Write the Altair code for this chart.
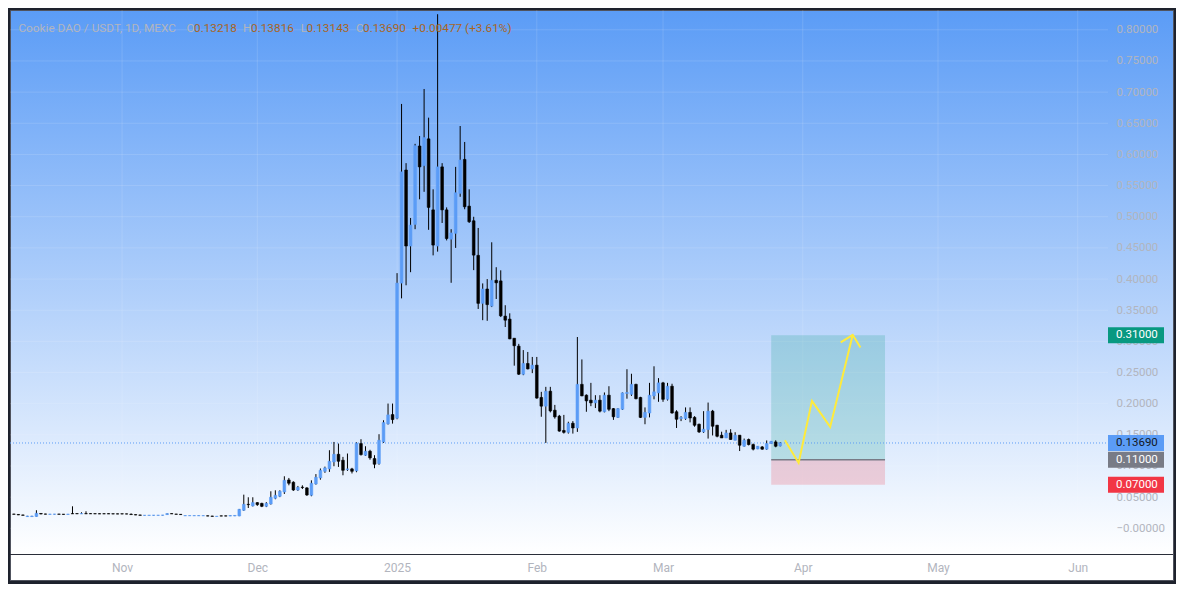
import altair as alt
import numpy as np
import pandas as pd

# ---------------- data ----------------
START_DATE = "2024-10-08"

opens = [
    0.0228, 0.0222, 0.0214, 0.0188, 0.0188, 0.0190, 0.0238, 0.0229, 0.0224, 0.0225,
    0.0228, 0.0226, 0.0223, 0.0236, 0.0236, 0.0232, 0.0236, 0.0236, 0.0235, 0.0234,
    0.0234, 0.0235, 0.0233, 0.0232, 0.0233, 0.0231, 0.0226, 0.0219, 0.0214, 0.0207,
    0.0207, 0.0208, 0.0208, 0.0209, 0.0220, 0.0236, 0.0228, 0.0224, 0.0201, 0.0202,
    0.0201, 0.0201, 0.0201, 0.0200, 0.0196, 0.0190, 0.0199, 0.0199, 0.0197, 0.0198,
    0.0198, 0.0289, 0.0385, 0.0359,
    0.0412, 0.0400, 0.0353, 0.0390, 0.0482, 0.0514, 0.0583, 0.0776, 0.0739, 0.0615,
    0.0660, 0.0648, 0.0530, 0.0712, 0.0808, 0.0915, 0.0953, 0.1065, 0.1188, 0.1092,
    0.0942, 0.0953, 0.0921, 0.1360, 0.1172, 0.1237, 0.1119, 0.1039, 0.1386, 0.1676,
    0.1825,
    0.1767, 0.3935, 0.5750, 0.4530, 0.4877, 0.6135, 0.5820, 0.6250, 0.5110, 0.4530,
    0.5800, 0.5110, 0.4640, 0.4733, 0.5375, 0.5920, 0.5170, 0.4935, 0.4380, 0.3610,
    0.3840, 0.3565, 0.3980, 0.3970, 0.3405, 0.3357, 0.3050, 0.2923, 0.2473, 0.2645,
    0.2558,
    0.2618, 0.2100, 0.1960, 0.2200, 0.1895, 0.1800, 0.1570, 0.1540, 0.1686, 0.1610,
    0.2310, 0.2136, 0.2056, 0.2013, 0.2056, 0.1870, 0.2136, 0.1920, 0.1780, 0.1910,
    0.2163, 0.2150, 0.2310, 0.2100, 0.1780, 0.1850, 0.2125, 0.2173,
    0.2334, 0.2070, 0.2280, 0.1870, 0.1760, 0.1760, 0.1860, 0.1780, 0.1670, 0.1547,
    0.1585, 0.1880, 0.1654, 0.1494, 0.1450, 0.1530, 0.1413, 0.1494, 0.1317, 0.1425,
    0.1344, 0.1274, 0.1306, 0.1270, 0.1360, 0.1386, 0.13218,
]
highs = [
    0.0232, 0.0226, 0.0217, 0.0200, 0.0200, 0.0290, 0.0242, 0.0233, 0.0230, 0.0230,
    0.0231, 0.0229, 0.0230, 0.0353, 0.0240, 0.0257, 0.0273, 0.0240, 0.0239, 0.0238,
    0.0240, 0.0238, 0.0237, 0.0236, 0.0236, 0.0235, 0.0238, 0.0222, 0.0216, 0.0211,
    0.0211, 0.0212, 0.0211, 0.0214, 0.0240, 0.0239, 0.0231, 0.0227, 0.0206, 0.0205,
    0.0205, 0.0206, 0.0205, 0.0205, 0.0200, 0.0195, 0.0204, 0.0204, 0.0206, 0.0207,
    0.0310, 0.0540, 0.0498, 0.0498,
    0.0420, 0.0410, 0.0420, 0.0594, 0.0610, 0.0610, 0.0835, 0.0808, 0.0755, 0.0680,
    0.0690, 0.0660, 0.0770, 0.0870, 0.0960, 0.0990, 0.1253, 0.1386, 0.1360, 0.1146,
    0.1200, 0.0970, 0.1380, 0.1430, 0.1317, 0.1260, 0.1173, 0.1510, 0.1734, 0.2002,
    0.2002,
    0.4095, 0.6810, 0.5860, 0.4980, 0.6170, 0.6296, 0.7050, 0.6590, 0.5440, 0.8250,
    0.5860, 0.5150, 0.4800, 0.5800, 0.6456, 0.6200, 0.5440, 0.5000, 0.4820, 0.3930,
    0.4000, 0.4590, 0.4190, 0.4140, 0.3580, 0.3450, 0.3050, 0.2960, 0.2860, 0.2830,
    0.2750,
    0.2750, 0.2190, 0.2270, 0.2270, 0.1980, 0.1820, 0.1820, 0.1710, 0.1720, 0.3070,
    0.2710, 0.2150, 0.2334, 0.2136, 0.2136, 0.2180, 0.2280, 0.1930, 0.1930, 0.2180,
    0.2553, 0.2480, 0.2320, 0.2110, 0.1940, 0.2334, 0.2600, 0.2410,
    0.2350, 0.2334, 0.2320, 0.1895, 0.1800, 0.1940, 0.1940, 0.1800, 0.1680, 0.1880,
    0.2018, 0.1900, 0.1660, 0.1550, 0.1580, 0.1590, 0.1542, 0.1494, 0.1440, 0.1440,
    0.1360, 0.1317, 0.1320, 0.1410, 0.1400, 0.1413, 0.13816,
]
lows = [
    0.0222, 0.0212, 0.0206, 0.0185, 0.0186, 0.0188, 0.0226, 0.0224, 0.0222, 0.0222,
    0.0223, 0.0221, 0.0221, 0.0230, 0.0230, 0.0229, 0.0230, 0.0230, 0.0230, 0.0229,
    0.0229, 0.0229, 0.0228, 0.0227, 0.0227, 0.0226, 0.0217, 0.0211, 0.0206, 0.0204,
    0.0205, 0.0205, 0.0205, 0.0206, 0.0218, 0.0230, 0.0222, 0.0216, 0.0199, 0.0200,
    0.0199, 0.0199, 0.0199, 0.0194, 0.0189, 0.0189, 0.0194, 0.0194, 0.0196, 0.0196,
    0.0195, 0.0280, 0.0326, 0.0350,
    0.0360, 0.0340, 0.0340, 0.0380, 0.0466, 0.0500, 0.0551, 0.0690, 0.0600, 0.0600,
    0.0630, 0.0520, 0.0514, 0.0700, 0.0780, 0.0890, 0.0905, 0.0996, 0.0985, 0.0851,
    0.0921, 0.0880, 0.0900, 0.1167, 0.1162, 0.1100, 0.0964, 0.1020, 0.1370, 0.1665,
    0.1680,
    0.1750, 0.3690, 0.3900, 0.4110, 0.4800, 0.5280, 0.5400, 0.4790, 0.4380, 0.4440,
    0.4900, 0.4620, 0.3940, 0.4500, 0.5320, 0.5120, 0.4900, 0.4143, 0.3520, 0.3340,
    0.3330, 0.3550, 0.3680, 0.3390, 0.3230, 0.3035, 0.2610, 0.2460, 0.2457, 0.2550,
    0.2490,
    0.2080, 0.1790, 0.1370, 0.1860, 0.1760, 0.1550, 0.1520, 0.1520, 0.1520, 0.1547,
    0.2120, 0.1870, 0.1960, 0.1930, 0.1860, 0.1860, 0.1880, 0.1740, 0.1770, 0.1900,
    0.2080, 0.2125, 0.2070, 0.1770, 0.1670, 0.1780, 0.2070, 0.2030,
    0.2030, 0.2050, 0.1840, 0.1610, 0.1720, 0.1740, 0.1700, 0.1630, 0.1530, 0.1530,
    0.1440, 0.1490, 0.1460, 0.1450, 0.1450, 0.1420, 0.1413, 0.1240, 0.1310, 0.1330,
    0.1250, 0.1270, 0.1260, 0.1260, 0.1355, 0.1300, 0.13143,
]
closes = [
    0.0225, 0.0215, 0.0209, 0.0197, 0.0197, 0.0241, 0.0229, 0.0227, 0.0227, 0.0228,
    0.0225, 0.0223, 0.0227, 0.0233, 0.0233, 0.0236, 0.0233, 0.0233, 0.0232, 0.0231,
    0.0232, 0.0231, 0.0230, 0.0229, 0.0230, 0.0229, 0.0220, 0.0214, 0.0209, 0.0209,
    0.0210, 0.0210, 0.0210, 0.0212, 0.0236, 0.0232, 0.0225, 0.0220, 0.0204, 0.0204,
    0.0204, 0.0204, 0.0203, 0.0197, 0.0192, 0.0193, 0.0197, 0.0197, 0.0204, 0.0206,
    0.0305, 0.0385, 0.0380, 0.0412,
    0.0380, 0.0353, 0.0400, 0.0498, 0.0530, 0.0594, 0.0770, 0.0723, 0.0615, 0.0658,
    0.0655, 0.0535, 0.0723, 0.0819, 0.0931, 0.0969, 0.1076, 0.1188, 0.1076, 0.0931,
    0.0953, 0.0915, 0.1365, 0.1183, 0.1237, 0.1130, 0.1028, 0.1413, 0.1697, 0.1820,
    0.1745,
    0.3935, 0.5720, 0.4530, 0.4866, 0.6140, 0.5800, 0.6270, 0.5150, 0.4545, 0.5800,
    0.5110, 0.4650, 0.4740, 0.5385, 0.5910, 0.5160, 0.4920, 0.4384, 0.3610, 0.3840,
    0.3590, 0.3980, 0.3940, 0.3410, 0.3340, 0.3040, 0.2930, 0.2473, 0.2645, 0.2558,
    0.2618,
    0.2090, 0.1960, 0.2200, 0.1884, 0.1788, 0.1560, 0.1540, 0.1686, 0.1610, 0.2310,
    0.2125, 0.2045, 0.2013, 0.2056, 0.1880, 0.2136, 0.1910, 0.1790, 0.1920, 0.2173,
    0.2180, 0.2310, 0.2080, 0.1780, 0.1860, 0.2136, 0.2190, 0.2334,
    0.2070, 0.2280, 0.1850, 0.1750, 0.1780, 0.1860, 0.1770, 0.1654, 0.1547, 0.1590,
    0.1880, 0.1638, 0.1477, 0.1450, 0.1530, 0.1425, 0.1494, 0.1333, 0.1413, 0.1344,
    0.1270, 0.1317, 0.1270, 0.1360, 0.1397, 0.1317, 0.13690,
]

# price-scale tick labels and month labels
y_ticks = [0.0, 0.05, 0.10, 0.15, 0.20, 0.25, 0.30, 0.35, 0.40,
           0.45, 0.50, 0.55, 0.60, 0.65, 0.70, 0.75, 0.80]
month_starts = ["2024-11-01", "2024-12-01", "2025-01-01", "2025-02-01",
                "2025-03-01", "2025-04-01", "2025-05-01", "2025-06-01"]

# long-position drawing
pos_start, pos_end = "2025-03-25", "2025-04-19T06:00:00Z"
target_price, entry_price, stop_price = 0.31, 0.11, 0.07
last_price = 0.1369

# projected path (yellow)
path_dates = ["2025-03-28T01:00:00Z", "2025-03-31T02:00:00Z", "2025-04-03T01:00:00Z",
              "2025-04-07T02:00:00Z", "2025-04-12T02:00:00Z"]
path_prices = [0.1414, 0.1049, 0.2045, 0.1627, 0.3105]
head_dates = ["2025-04-09T10:00:00Z", "2025-04-12T02:00:00Z", "2025-04-13T19:00:00Z"]
head_prices = [0.2983, 0.3105, 0.2903]

# right-hand price tags
tag_prices = [0.31, 0.1369, 0.11, 0.07]
tag_texts = ["0.31000", "0.13690", "0.11000", "0.07000"]
tag_fills = ["#089981", "#5b9cf6", "#787b86", "#f23645"]
tag_inks = ["#ffffff", "#131722", "#ffffff", "#ffffff"]

# header legend
header_texts = ["Cookie DAO / USDT, 1D, MEXC", "O", "0.13218", "H", "0.13816",
                "L", "0.13143", "C", "0.13690", "+0.00477 (+3.61%)"]
header_kinds = ["grey", "grey", "val", "grey", "val", "grey", "val", "grey", "val", "val"]

# ---------------- layout ----------------
VIEW_W, VIEW_H = 1163, 570      # whole chart frame (plot + price scale + time scale)
PLOT_W, PLOT_H = 1098, 544      # candle pane
PX_PER_DAY = 4.547
NOV1_X = 108
Y_TOP_PX, Y_ZERO_PX = 19.8, 518.3
px_per_unit = (Y_ZERO_PX - Y_TOP_PX) / 0.8
y_domain = [-(VIEW_H - Y_ZERO_PX) / px_per_unit, 0.8 + Y_TOP_PX / px_per_unit]

nov1 = pd.Timestamp("2024-11-01", tz="UTC")


def ms(t):
    return int(pd.Timestamp(t).value // 10**6)


x_domain = [ms(nov1 - pd.Timedelta(days=NOV1_X / PX_PER_DAY)),
            ms(nov1 + pd.Timedelta(days=(VIEW_W - NOV1_X) / PX_PER_DAY))]
month_ms = [ms(pd.Timestamp(m, tz="UTC")) for m in month_starts]

GREY = "#b2b5be"
VAL = "#a9651f"
FONT = "Roboto"

x_scale = alt.Scale(type="utc", domain=x_domain, nice=False)
y_scale = alt.Scale(domain=y_domain, zero=False, nice=False)

x_axis = alt.Axis(values=month_ms, orient="bottom", offset=-(VIEW_H - PLOT_H),
                  labelExpr="utcFormat(datum.value, '%m') == '01' ? utcFormat(datum.value, '%Y') : utcFormat(datum.value, '%b')",
                  domain=False, ticks=False, grid=False, labelColor=GREY,
                  labelFontSize=12, labelPadding=13, labelBaseline="middle",
                  labelFlush=False, labelOverlap=False, labelFont=FONT, title=None)
y_axis = alt.Axis(values=y_ticks, orient="right", offset=-(VIEW_W - PLOT_W),
                  labelExpr="datum.value < 0.0001 ? '\u22120.00000' : format(datum.value, '.5f')",
                  domain=False, ticks=False, grid=False, labelColor=GREY,
                  labelFontSize=11.5, labelPadding=8, labelFlush=False,
                  labelOverlap=False, labelFont=FONT, title=None)


def X(field):
    return alt.X(field, type="temporal", scale=x_scale, axis=x_axis)


def Y(field):
    return alt.Y(field, type="quantitative", scale=y_scale, axis=y_axis)


dates = pd.date_range(START_DATE, periods=len(opens), freq="D").strftime("%Y-%m-%d").tolist()
candles = pd.DataFrame({"date": dates, "open": opens, "high": highs,
                        "low": lows, "close": closes})
candles["dir"] = np.where(candles["close"] >= candles["open"], "up", "down")
dir_scale = alt.Scale(domain=["up", "down"], range=["#5b9cf6", "#000000"])

# grid
hgrid = alt.Chart(pd.DataFrame({"price": y_ticks})).mark_rule(
    color="#ffffff", opacity=0.13, strokeWidth=1
).encode(y=Y("price"), x=alt.value(0), x2=alt.value(PLOT_W))

vgrid = alt.Chart(pd.DataFrame({"date": month_starts})).mark_rule(
    color="#ffffff", opacity=0.13, strokeWidth=1
).encode(x=X("date"), y=alt.value(0), y2=alt.value(PLOT_H))

separator = alt.Chart(pd.DataFrame({"a": [0]})).mark_rule(
    color="#2a2e39", strokeWidth=1
).encode(y=alt.value(PLOT_H + 0.5), x=alt.value(0), x2=alt.value(VIEW_W))

# position box
pos = pd.DataFrame({"date": [pos_start], "date2": [pos_end],
                    "target": [target_price], "entry": [entry_price], "stop": [stop_price]})
profit = alt.Chart(pos).mark_rect(color="#089981", opacity=0.2).encode(
    x=X("date"), x2="date2", y=Y("entry"), y2="target")
loss = alt.Chart(pos).mark_rect(color="#f23645", opacity=0.2).encode(
    x=X("date"), x2="date2", y=Y("stop"), y2="entry")
entry_line = alt.Chart(pos).mark_rule(color="#787b86", strokeWidth=1.5).encode(
    x=X("date"), x2="date2", y=Y("entry"))

last_line = alt.Chart(pd.DataFrame({"price": [last_price]})).mark_rule(
    color="#5b9cf6", strokeWidth=1, strokeDash=[1, 2]
).encode(y=Y("price"), x=alt.value(0), x2=alt.value(PLOT_W))

# candles
wicks = alt.Chart(candles).mark_rule(color="#000000", strokeWidth=1, clip=True).encode(
    x=X("date"), y=Y("low"), y2="high")
bodies = alt.Chart(candles).mark_bar(size=2.7, strokeWidth=0.6, clip=True).encode(
    x=X("date"), y=Y("open"), y2="close",
    color=alt.Color("dir:N", scale=dir_scale, legend=None),
    stroke=alt.Stroke("dir:N", scale=dir_scale, legend=None))

# projected path
path = alt.Chart(pd.DataFrame({"date": path_dates, "price": path_prices,
                               "i": list(range(len(path_dates)))})).mark_line(
    color="#ffeb3b", strokeWidth=2).encode(x=X("date"), y=Y("price"), order="i:Q")
head = alt.Chart(pd.DataFrame({"date": head_dates, "price": head_prices,
                               "i": list(range(len(head_dates)))})).mark_line(
    color="#ffeb3b", strokeWidth=2).encode(x=X("date"), y=Y("price"), order="i:Q")

# right price tags
tags = pd.DataFrame({"price": tag_prices, "label": tag_texts,
                     "fill": tag_fills, "ink": tag_inks})
tag_boxes = alt.Chart(tags).mark_rect(yOffset=-8, y2Offset=8).encode(
    y=Y("price"), y2="price", x=alt.value(PLOT_W), x2=alt.value(PLOT_W + 56),
    color=alt.Color("fill:N", scale=None))
tag_text = alt.Chart(tags).mark_text(align="left", baseline="middle",
                                     font=FONT, fontSize=11.5).encode(
    y=Y("price"), x=alt.value(PLOT_W + 8), text="label:N",
    color=alt.Color("ink:N", scale=None))

# header
HEADER_X = [8.4, 176.6, 184.0, 233.0, 241.0, 290.8, 296.5, 346.0, 353.0, 402.6]
header_layers = []
for txt, kind, hx in zip(header_texts, header_kinds, HEADER_X):
    header_layers.append(
        alt.Chart(pd.DataFrame({"t": [txt]})).mark_text(
            align="left", baseline="middle", font=FONT, fontSize=11.8,
            color=GREY if kind == "grey" else VAL
        ).encode(x=alt.value(hx), y=alt.value(18), text="t:N")
    )

stop_at = round(PLOT_H / VIEW_H, 4)
gradient = {"gradient": "linear", "x1": 0, "y1": 0, "x2": 0, "y2": 1,
            "stops": [{"offset": 0, "color": "#5b9cf6"},
                      {"offset": stop_at, "color": "#ffffff"},
                      {"offset": 1, "color": "#ffffff"}]}
fill_expr = ("{gradient: 'linear', x1: 0, y1: 0, x2: 0, y2: 1, stops: ["
             "{offset: 0, color: '#5b9cf6'}, {offset: %.4f, color: '#ffffff'}, "
             "{offset: 1, color: '#ffffff'}]}" % stop_at)

base = alt.layer(
    hgrid, vgrid, profit, loss, entry_line, last_line, wicks, bodies,
    path, head, separator, tag_boxes, tag_text, *header_layers
)


def finish(view_fill):
    return base.properties(
        width=VIEW_W, height=VIEW_H,
        padding={"left": 2, "top": 2, "right": 3, "bottom": 4},
        autosize=alt.AutoSizeParams(type="none"),
        background="#1e222d",
        view=alt.ViewBackground(fill=view_fill, stroke="#50535e", strokeWidth=1),
    ).configure(font=FONT)


try:
    chart = finish(gradient)
    chart.to_dict()
except Exception:
    chart = finish(alt.ExprRef(fill_expr))

chart.save("out.html", embed_options={"renderer": "svg", "actions": False})
